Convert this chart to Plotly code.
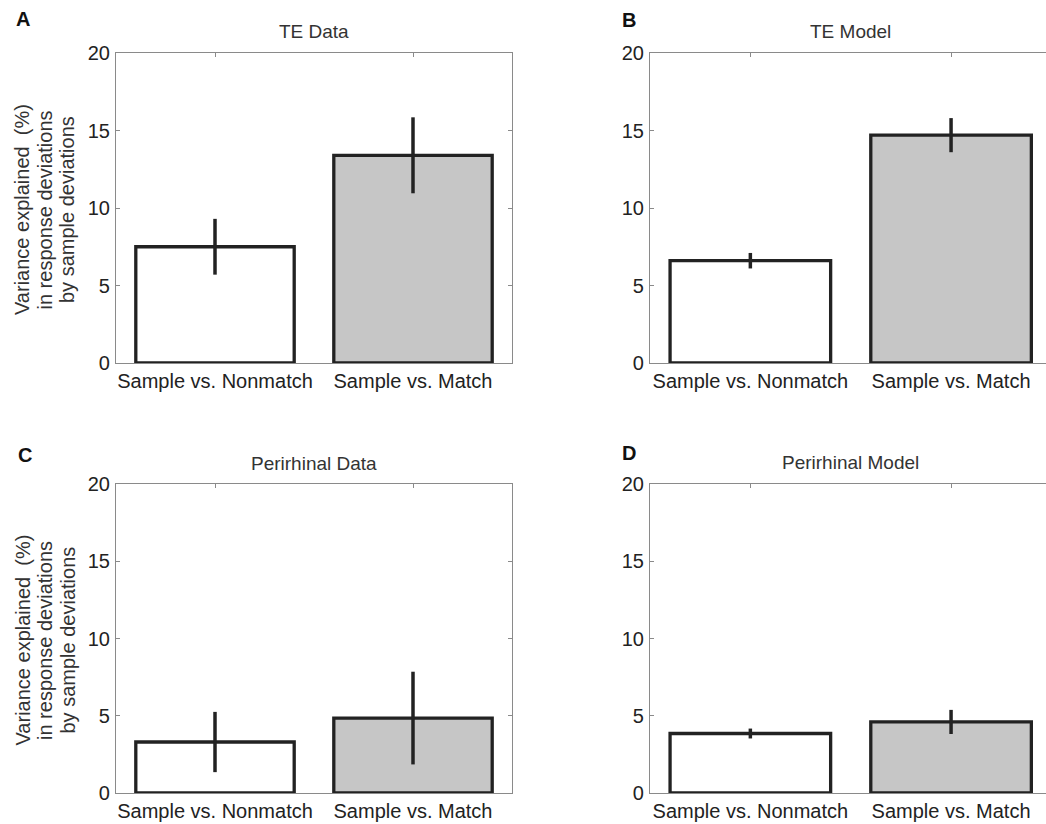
import plotly.graph_objects as go

# ---- data ----
categories = ["Sample vs. Nonmatch", "Sample vs. Match"]
panel_letters = ["A", "B", "C", "D"]
panel_titles = ["TE Data", "TE Model", "Perirhinal Data", "Perirhinal Model"]

te_data = [7.5, 13.4]
te_data_err = [1.8, 2.45]
te_model = [6.6, 14.7]
te_model_err = [0.5, 1.1]
prh_data = [3.3, 4.85]
prh_data_err = [1.95, 3.0]
prh_model = [3.85, 4.6]
prh_model_err = [0.32, 0.78]

y_ticks = [0, 5, 10, 15, 20]
y_title_lines = ["Variance explained  (%)", "in response deviations", "by sample deviations"]

values = [te_data, te_model, prh_data, prh_model]
errors = [te_data_err, te_model_err, prh_data_err, prh_model_err]
bar_colors = ["#ffffff", "#c6c6c6"]

# ---- layout geometry (pixels) ----
W, H = 1046, 824
FONT = "Liberation Sans, Arial, sans-serif"
# (x0, x1, y_top, y_bottom, x_range_end)
boxes = [
    (116, 512, 53, 363, 2.5),
    (650, 1046, 53, 363, 2.473),
    (116, 512, 484, 793, 2.5),
    (650, 1046, 484, 793, 2.473),
]
letter_pos = [(23, 19), (629, 20), (25, 455), (629, 453)]
title_pos = [(314, 32), (850, 32), (314, 463), (850, 462)]

fig = go.Figure()
annotations = []
x_idx = [1, 2]

for i in range(4):
    ax = "" if i == 0 else str(i + 1)
    fig.add_trace(go.Bar(
        x=x_idx, y=values[i],
        width=0.8,
        marker=dict(color=bar_colors, line=dict(color="#222222", width=3.3)),
        error_y=dict(type="data", array=errors[i], visible=True,
                     thickness=3.5, width=0, color="#222222"),
        xaxis="x" + ax, yaxis="y" + ax,
        showlegend=False, hoverinfo="skip",
    ))
    x0, x1, yt, yb, xend = boxes[i]
    right_panel = i in (1, 3)
    fig.layout["xaxis" + ax] = dict(
        domain=[x0 / W, x1 / W], anchor="y" + ax, automargin=False,
        range=[0.5, xend], tickvals=x_idx, ticktext=categories,
        showline=True, linecolor="#8a8a8a", linewidth=1.2, mirror="allticks",
        ticks="inside", ticklen=4, tickcolor="#8a8a8a",
        showgrid=False, zeroline=False, layer="below traces",
        tickfont=dict(family=FONT, size=20, color="#222222"),
    )
    fig.layout["yaxis" + ax] = dict(
        domain=[1 - yb / H, 1 - yt / H], anchor="x" + ax, automargin=False,
        range=[0, 20], tickvals=y_ticks,
        showline=True, linecolor="#8a8a8a", linewidth=1.2,
        mirror=False if right_panel else "allticks",
        ticks="inside", ticklen=4, tickcolor="#8a8a8a",
        showgrid=False, zeroline=False, ticklabelstandoff=1,
        tickfont=dict(family=FONT, size=20, color="#222222"),
    )
    lx, ly = letter_pos[i]
    annotations.append(dict(text="<b>" + panel_letters[i] + "</b>", x=lx / W, y=1 - ly / H,
                            xref="paper", yref="paper", showarrow=False,
                            xanchor="center", yanchor="middle",
                            font=dict(family=FONT, size=20, color="#111111")))
    tx, ty = title_pos[i]
    annotations.append(dict(text=panel_titles[i], x=tx / W, y=1 - ty / H,
                            xref="paper", yref="paper", showarrow=False,
                            xanchor="center", yanchor="middle",
                            font=dict(family=FONT, size=19, color="#333333")))
    if not right_panel:
        yc = (yt + yb) / 2 + 2
        for j, line in enumerate(y_title_lines):
            annotations.append(dict(text=line, x=(22 + 22.5 * j) / W, y=1 - yc / H,
                                    xref="paper", yref="paper", showarrow=False,
                                    textangle=-90, xanchor="center", yanchor="middle",
                                    font=dict(family=FONT, size=20, color="#333333")))

fig.update_layout(
    width=W, height=H,
    margin=dict(l=0, r=0, t=0, b=0, autoexpand=False),
    paper_bgcolor="white", plot_bgcolor="white",
    annotations=annotations,
    bargap=0.2,
)

fig.write_html("out.html", config={"displayModeBar": False},
               post_script="document.body.style.margin='0';")
